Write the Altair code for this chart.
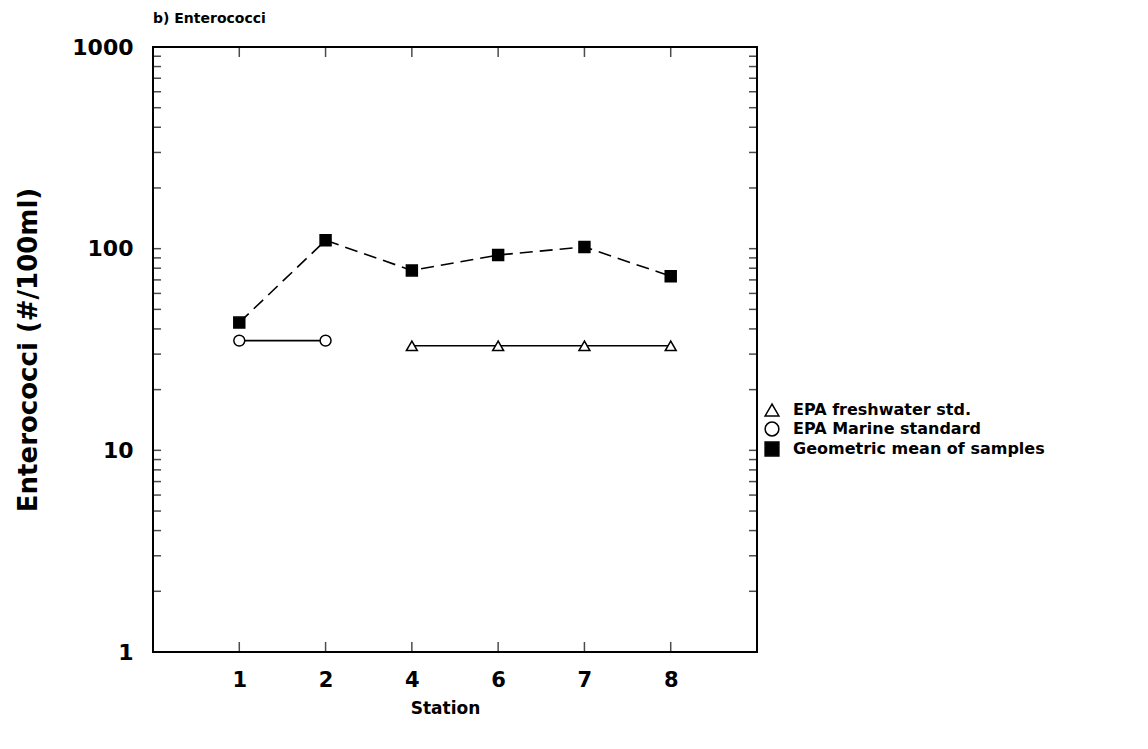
import altair as alt
import pandas as pd

# ---- data ----
stations = ["1", "2", "4", "6", "7", "8"]
geo_mean_values = [43, 110, 78, 93, 102, 73]
marine_stations = ["1", "2"]
marine_values = [35, 35]
fresh_stations = ["4", "6", "7", "8"]
fresh_values = [33, 33, 33, 33]

series_names = ["EPA freshwater std.", "EPA Marine standard", "Geometric mean of samples"]
series_shapes = ["triangle-up", "circle", "square"]
series_fills = ["white", "white", "black"]
series_strokes = ["black", "black", "black"]

y_label_values = [1, 10, 100, 1000]
y_minor_ticks = [2, 3, 4, 5, 6, 7, 8, 9, 10, 20, 30, 40, 50, 60, 70, 80, 90, 100,
                 200, 300, 400, 500, 600, 700, 800, 900]

FONT = "DejaVu Sans"

rows = []
for s, v in zip(fresh_stations, fresh_values):
    rows.append({"station": s, "value": v, "series": series_names[0]})
for s, v in zip(marine_stations, marine_values):
    rows.append({"station": s, "value": v, "series": series_names[1]})
for s, v in zip(stations, geo_mean_values):
    rows.append({"station": s, "value": v, "series": series_names[2]})
df = pd.DataFrame(rows)

ytick_df = pd.DataFrame({"value": y_minor_ticks})
xtick_df = pd.DataFrame({"station": stations})

X = alt.X(
    "station:O",
    scale=alt.Scale(type="point", domain=stations, padding=1),
    axis=alt.Axis(
        title="Station", labelAngle=0, ticks=False, domain=False, grid=False,
        labelFont=FONT, labelFontWeight="bold", labelFontSize=21, labelColor="black",
        labelPadding=17, titleFont=FONT, titleFontWeight="bold", titleFontSize=17,
        titleColor="black", titlePadding=10, titleX=292,
    ),
)
Y = alt.Y(
    "value:Q",
    scale=alt.Scale(type="log", domain=[1, 1000]),
    axis=alt.Axis(
        title="Enterococci (#/100ml)", values=y_label_values, format="d",
        ticks=False, domain=False, grid=False,
        labelFont=FONT, labelFontWeight="bold", labelFontSize=22, labelColor="black",
        labelPadding=20, titleFont=FONT, titleFontWeight="bold", titleFontSize=26,
        titleColor="black", titlePadding=30,
    ),
)

legend = alt.Legend(
    title=None, orient="none", legendX=611, legendY=355, padding=0,
    labelFont=FONT, labelFontWeight="bold", labelFontSize=16, labelColor="black",
    labelLimit=400, symbolSize=190, symbolStrokeColor="black", symbolStrokeWidth=1.5,
    rowPadding=0, labelOffset=13,
)

std_lines = alt.Chart(df).transform_filter(
    alt.datum.series != series_names[2]
).mark_line(color="black", strokeWidth=1.6).encode(
    x=X, y=Y, detail="series:N",
)
mean_line = alt.Chart(df).transform_filter(
    alt.datum.series == series_names[2]
).mark_line(color="black", strokeWidth=1.6, strokeDash=[13, 7]).encode(
    x=X, y=Y,
)

points = alt.Chart(df).mark_point(filled=True, strokeWidth=1.5, opacity=1, size=120).encode(
    x=X, y=Y,
    shape=alt.Shape("series:N", scale=alt.Scale(domain=series_names, range=series_shapes), legend=legend),
    fill=alt.Fill("series:N", scale=alt.Scale(domain=series_names, range=series_fills), legend=legend),
    stroke=alt.Stroke("series:N", scale=alt.Scale(domain=series_names, range=series_strokes), legend=legend),
)

tick_left = alt.Chart(ytick_df).mark_tick(orient="horizontal", color="black", thickness=1.5, size=8).encode(
    y=Y, x=alt.value(4)
)
tick_right = alt.Chart(ytick_df).mark_tick(orient="horizontal", color="black", thickness=1.5, size=8).encode(
    y=Y, x=alt.value(600)
)
tick_bottom = alt.Chart(xtick_df).mark_tick(orient="vertical", color="black", thickness=1.5, size=10).encode(
    x=X, y=alt.value(600)
)
tick_top = alt.Chart(xtick_df).mark_tick(orient="vertical", color="black", thickness=1.5, size=10).encode(
    x=X, y=alt.value(5)
)

chart = alt.layer(std_lines, mean_line, points, tick_left, tick_right, tick_bottom, tick_top).properties(
    width=604,
    height=605,
    background="white",
    title=alt.Title("b) Enterococci", anchor="start", frame="group", font=FONT,
                    fontWeight="bold", fontSize=14, color="black", offset=10),
    autosize=alt.AutoSizeParams(type="none"),
    padding={"left": 153, "top": 47, "right": 391, "bottom": 97},
).configure_view(
    stroke="black", strokeWidth=2
)

chart.save("out.html", embed_options={"renderer": "svg", "actions": False})
